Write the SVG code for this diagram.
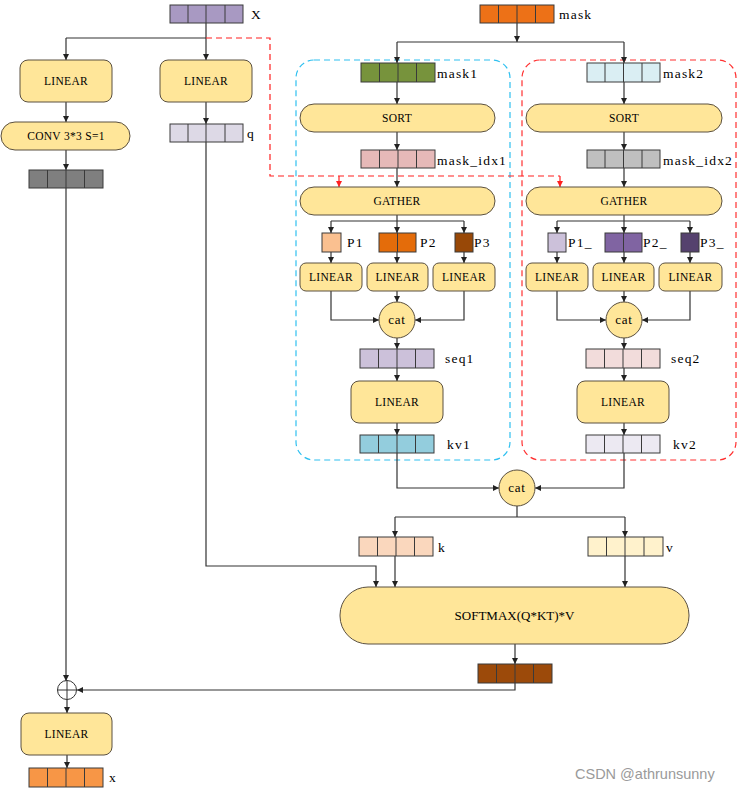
<svg xmlns="http://www.w3.org/2000/svg" width="744" height="794" viewBox="0 0 744 794">
<style>
.n{fill:#FFE699;stroke:#5a5040;stroke-width:1}
.t{stroke:#3a3a3a;stroke-width:1}
.c{fill:none;stroke:#333;stroke-width:1.2}
.cr{fill:none;stroke:#ff2020;stroke-width:1.2;stroke-dasharray:6 4}
.bb{fill:none;stroke:#2fc0f0;stroke-width:1.2;stroke-dasharray:6 4}
.rb{fill:none;stroke:#ff3030;stroke-width:1.2;stroke-dasharray:6 4}
.nt{font-family:"Liberation Serif","Times New Roman",serif;font-size:11.5px;text-anchor:middle;fill:#000;letter-spacing:0.3px}
.ct{font-family:"Liberation Serif","Times New Roman",serif;font-size:13px;text-anchor:middle;fill:#000;letter-spacing:0.8px}
.lb{font-family:"Liberation Serif","Times New Roman",serif;font-size:13.5px;fill:#000;letter-spacing:1.2px}
.wm{font-family:"Liberation Sans",Arial,sans-serif;font-size:14.5px;fill:#9a9a9a}
</style>
<defs>
<marker id="a" markerWidth="8" markerHeight="8" refX="7" refY="4" orient="auto" markerUnits="userSpaceOnUse">
<path d="M1,1 L7,4 L1,7 Z" fill="#222"/>
</marker>
<marker id="ar" markerWidth="8" markerHeight="8" refX="7" refY="4" orient="auto" markerUnits="userSpaceOnUse">
<path d="M1,1 L7,4 L1,7 Z" fill="#ff2020"/>
</marker>
</defs>

<g id="containers">
<rect x="296" y="60" width="214" height="400" rx="18" class="bb"/>
<rect x="522" y="60" width="214" height="400" rx="18" class="rb"/>
</g>

<g id="connectors">
<path class="c" d="M206,23 V38 M66,38 H206"/>
<path class="c" d="M66,38 V60" marker-end="url(#a)"/>
<path class="c" d="M206,38 V60" marker-end="url(#a)"/>
<path class="cr" d="M206,38 H270 V176 H560"/>
<path class="cr" style="stroke-dasharray:none" d="M339,176 V187" marker-end="url(#ar)"/>
<path class="cr" style="stroke-dasharray:none" d="M560,176 V187" marker-end="url(#ar)"/>
<path class="c" d="M66,102 V122" marker-end="url(#a)"/>
<path class="c" d="M66,150 V170" marker-end="url(#a)"/>
<path class="c" d="M66,188 V681" marker-end="url(#a)"/>
<path class="c" d="M206,102 V124" marker-end="url(#a)"/>
<path class="c" d="M206,142 V566 H376 V587" marker-end="url(#a)"/>
<path class="c" d="M517,23 V42" marker-end="url(#a)"/>
<path class="c" d="M397,42 H624"/>
<path class="c" d="M397,42 V63" marker-end="url(#a)"/>
<path class="c" d="M624,42 V63" marker-end="url(#a)"/>
<path class="c" d="M397,82 V104" marker-end="url(#a)"/>
<path class="c" d="M624,82 V104" marker-end="url(#a)"/>
<path class="c" d="M397,132 V150" marker-end="url(#a)"/>
<path class="c" d="M624,132 V150" marker-end="url(#a)"/>
<path class="c" d="M397,168 V187" marker-end="url(#a)"/>
<path class="c" d="M624,168 V187" marker-end="url(#a)"/>
<path class="c" d="M397,215 V221 M331,221 H464 M557,221 H690 M624,215 V221"/>
<path class="c" d="M331,221 V233" marker-end="url(#a)"/>
<path class="c" d="M397,221 V233" marker-end="url(#a)"/>
<path class="c" d="M464,221 V233" marker-end="url(#a)"/>
<path class="c" d="M557,221 V233" marker-end="url(#a)"/>
<path class="c" d="M624,221 V233" marker-end="url(#a)"/>
<path class="c" d="M690,221 V233" marker-end="url(#a)"/>
<path class="c" d="M331,252 V263" marker-end="url(#a)"/>
<path class="c" d="M397,252 V263" marker-end="url(#a)"/>
<path class="c" d="M464,252 V263" marker-end="url(#a)"/>
<path class="c" d="M557,252 V263" marker-end="url(#a)"/>
<path class="c" d="M624,252 V263" marker-end="url(#a)"/>
<path class="c" d="M690,252 V263" marker-end="url(#a)"/>
<path class="c" d="M397,291 V302" marker-end="url(#a)"/>
<path class="c" d="M624,291 V302" marker-end="url(#a)"/>
<path class="c" d="M331,291 V320 H379" marker-end="url(#a)"/>
<path class="c" d="M464,291 V320 H415" marker-end="url(#a)"/>
<path class="c" d="M557,291 V320 H606" marker-end="url(#a)"/>
<path class="c" d="M690,291 V320 H642" marker-end="url(#a)"/>
<path class="c" d="M397,338 V349" marker-end="url(#a)"/>
<path class="c" d="M624,338 V349" marker-end="url(#a)"/>
<path class="c" d="M397,368 V381" marker-end="url(#a)"/>
<path class="c" d="M624,368 V381" marker-end="url(#a)"/>
<path class="c" d="M397,423 V435" marker-end="url(#a)"/>
<path class="c" d="M624,423 V435" marker-end="url(#a)"/>
<path class="c" d="M397,453 V488 H499" marker-end="url(#a)"/>
<path class="c" d="M624,453 V488 H535" marker-end="url(#a)"/>
<path class="c" d="M517,506 V517 M395,517 H625"/>
<path class="c" d="M395,517 V537" marker-end="url(#a)"/>
<path class="c" d="M625,517 V537" marker-end="url(#a)"/>
<path class="c" d="M395,556 V587" marker-end="url(#a)"/>
<path class="c" d="M625,556 V587" marker-end="url(#a)"/>
<path class="c" d="M515,644 V664" marker-end="url(#a)"/>
<path class="c" d="M515,683 V690 H77" marker-end="url(#a)"/>
<path class="c" d="M67,700 V713" marker-end="url(#a)"/>
<path class="c" d="M67,755 V768" marker-end="url(#a)"/>
</g>

<g id="tX"><rect class="t" x="170" y="5" width="73" height="18" fill="#A899C2"/><path class="t" d="M188,5V23M206,5V23M225,5V23"/></g>
<g id="tMask"><rect class="t" x="480" y="5" width="74" height="18" fill="#ED7117"/><path class="t" d="M498.5,5V23M517,5V23M535.5,5V23"/></g>
<g id="tMask1"><rect class="t" x="361" y="63" width="74" height="19" fill="#77933C"/><path class="t" d="M379.5,63V82M398,63V82M416.5,63V82"/></g>
<g id="tMask2"><rect class="t" x="587" y="63" width="73" height="19" fill="#DAEEF3"/><path class="t" d="M605,63V82M623.5,63V82M642,63V82"/></g>
<g id="tIdx1"><rect class="t" x="361" y="150" width="74" height="18" fill="#E6B9B8"/><path class="t" d="M379.5,150V168M398,150V168M416.5,150V168"/></g>
<g id="tIdx2"><rect class="t" x="587" y="150" width="73" height="18" fill="#BFBFBF"/><path class="t" d="M605,150V168M623.5,150V168M642,150V168"/></g>
<g id="tQ"><rect class="t" x="170" y="124" width="73" height="18" fill="#DDD9E6"/><path class="t" d="M188,124V142M206,124V142M225,124V142"/></g>
<g id="tConv"><rect class="t" x="29" y="170" width="74" height="18" fill="#7F7F7F"/><path class="t" d="M47.5,170V188M66,170V188M84.5,170V188"/></g>
<g id="tP1"><rect class="t" x="322" y="233" width="19" height="19" fill="#FAC090"/></g>
<g id="tP2"><rect class="t" x="379" y="233" width="37" height="19" fill="#E46C0A"/><path class="t" d="M397.5,233V252"/></g>
<g id="tP3"><rect class="t" x="455" y="233" width="18" height="19" fill="#984807"/></g>
<g id="tP1_"><rect class="t" x="548" y="233" width="18" height="19" fill="#CCC1DA"/></g>
<g id="tP2_"><rect class="t" x="605" y="233" width="37" height="19" fill="#8064A2"/><path class="t" d="M623.5,233V252"/></g>
<g id="tP3_"><rect class="t" x="681" y="233" width="18" height="19" fill="#55416E"/></g>
<g id="tSeq1"><rect class="t" x="360" y="349" width="74" height="19" fill="#CCC1DA"/><path class="t" d="M378.5,349V368M397,349V368M415.5,349V368"/></g>
<g id="tSeq2"><rect class="t" x="586" y="349" width="74" height="19" fill="#F2DCDB"/><path class="t" d="M604.5,349V368M623,349V368M641.5,349V368"/></g>
<g id="tKv1"><rect class="t" x="360" y="435" width="74" height="18" fill="#93CDDD"/><path class="t" d="M378.5,435V453M397,435V453M415.5,435V453"/></g>
<g id="tKv2"><rect class="t" x="586" y="435" width="74" height="18" fill="#ECE9F2"/><path class="t" d="M604.5,435V453M623,435V453M641.5,435V453"/></g>
<g id="tK"><rect class="t" x="359" y="537" width="74" height="19" fill="#FAD7BD"/><path class="t" d="M377.5,537V556M396,537V556M414.5,537V556"/></g>
<g id="tV"><rect class="t" x="588" y="537" width="75" height="19" fill="#FFF2CC"/><path class="t" d="M606.5,537V556M625,537V556M644,537V556"/></g>
<g id="tOut"><rect class="t" x="478" y="664" width="74" height="19" fill="#9C4A0A"/><path class="t" d="M496.5,664V683M515,664V683M533.5,664V683"/></g>
<g id="tXout"><rect class="t" x="29" y="768" width="74" height="19" fill="#F79646"/><path class="t" d="M47.5,768V787M66,768V787M84.5,768V787"/></g>

<g id="linear1"><rect class="n" x="20" y="60" width="92" height="42" rx="8"/><text class="nt" x="66" y="85">LINEAR</text></g>
<g id="linear2"><rect class="n" x="160" y="60" width="92" height="42" rx="8"/><text class="nt" x="206" y="85">LINEAR</text></g>
<g id="conv"><rect class="n" x="1" y="122" width="129" height="28" rx="14"/><text class="nt" x="66" y="140">CONV 3*3 S=1</text></g>
<g id="sort1"><rect class="n" x="300" y="104" width="195" height="28" rx="14"/><text class="nt" x="397" y="122">SORT</text></g>
<g id="sort2"><rect class="n" x="526" y="104" width="196" height="28" rx="14"/><text class="nt" x="624" y="122">SORT</text></g>
<g id="gather1"><rect class="n" x="300" y="187" width="195" height="28" rx="14"/><text class="nt" x="397" y="205">GATHER</text></g>
<g id="gather2"><rect class="n" x="526" y="187" width="196" height="28" rx="14"/><text class="nt" x="624" y="205">GATHER</text></g>
<g id="lin11"><rect class="n" x="300" y="263" width="62" height="28" rx="6"/><text class="nt" x="331" y="281">LINEAR</text></g>
<g id="lin12"><rect class="n" x="367" y="263" width="61" height="28" rx="6"/><text class="nt" x="397.5" y="281">LINEAR</text></g>
<g id="lin13"><rect class="n" x="433" y="263" width="62" height="28" rx="6"/><text class="nt" x="464" y="281">LINEAR</text></g>
<g id="lin21"><rect class="n" x="526" y="263" width="62" height="28" rx="6"/><text class="nt" x="557" y="281">LINEAR</text></g>
<g id="lin22"><rect class="n" x="593" y="263" width="61" height="28" rx="6"/><text class="nt" x="623.5" y="281">LINEAR</text></g>
<g id="lin23"><rect class="n" x="659" y="263" width="63" height="28" rx="6"/><text class="nt" x="690.5" y="281">LINEAR</text></g>
<g id="cat1"><circle class="n" cx="397" cy="320" r="18"/><text class="ct" x="397" y="324">cat</text></g>
<g id="cat2"><circle class="n" cx="624" cy="320" r="18"/><text class="ct" x="624" y="324">cat</text></g>
<g id="linbig1"><rect class="n" x="351" y="381" width="92" height="42" rx="8"/><text class="nt" x="397" y="406">LINEAR</text></g>
<g id="linbig2"><rect class="n" x="577" y="381" width="92" height="42" rx="8"/><text class="nt" x="623" y="406">LINEAR</text></g>
<g id="cat3"><circle class="n" cx="517" cy="488" r="18"/><text class="ct" x="517" y="492">cat</text></g>
<g id="softmax"><rect class="n" x="340" y="587" width="349" height="57" rx="28"/><text class="nt" style="font-size:13px;letter-spacing:0" x="514.5" y="620">SOFTMAX(Q*KT)*V</text></g>
<g id="plus"><circle cx="67" cy="690" r="9.5" fill="#fff" stroke="#333" stroke-width="1"/><path d="M57.5,690H76.5M67,680.5V699.5" stroke="#333" stroke-width="1"/></g>
<g id="linear3"><rect class="n" x="21" y="713" width="91" height="42" rx="8"/><text class="nt" x="66.5" y="738">LINEAR</text></g>

<g id="labels">
<text class="lb" x="251" y="19">X</text>
<text class="lb" x="559" y="19">mask</text>
<text class="lb" x="437" y="78">mask1</text>
<text class="lb" x="663" y="78">mask2</text>
<text class="lb" x="437" y="165">mask_idx1</text>
<text class="lb" x="663" y="165">mask_idx2</text>
<text class="lb" x="247" y="138">q</text>
<text class="lb" x="347" y="247">P1</text>
<text class="lb" x="420" y="247">P2</text>
<text class="lb" x="474" y="247">P3</text>
<text class="lb" x="568" y="247">P1_</text>
<text class="lb" x="643" y="247">P2_</text>
<text class="lb" x="700" y="247">P3_</text>
<text class="lb" x="445" y="363">seq1</text>
<text class="lb" x="671" y="363">seq2</text>
<text class="lb" x="447" y="449">kv1</text>
<text class="lb" x="673" y="449">kv2</text>
<text class="lb" x="438" y="552">k</text>
<text class="lb" x="666" y="552">v</text>
<text class="lb" x="109" y="782">x</text>
<text class="wm" x="575" y="779">CSDN @athrunsunny</text>
</g>
</svg>
